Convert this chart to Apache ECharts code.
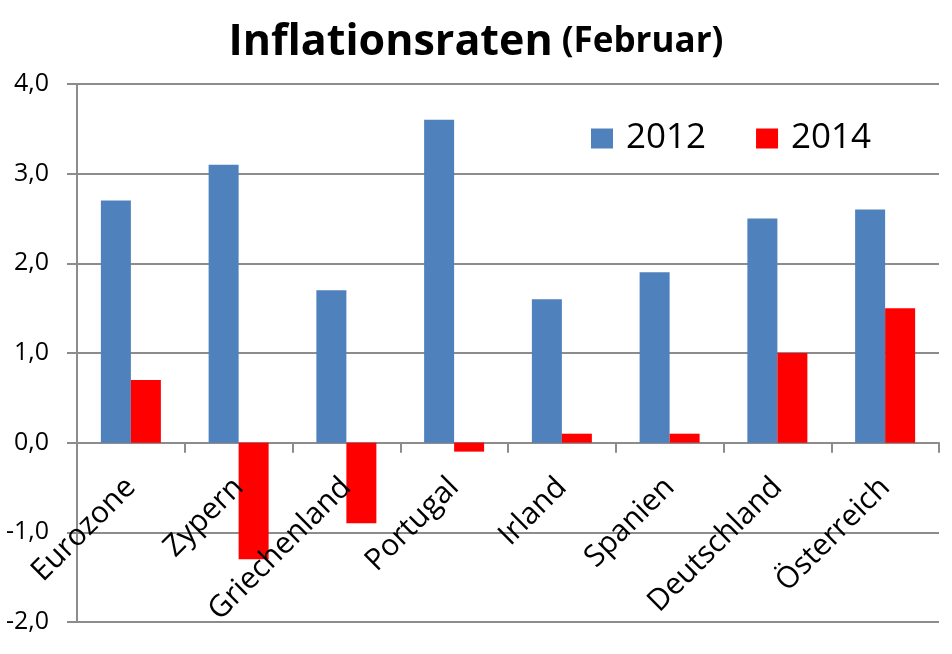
<!DOCTYPE html>
<html>
<head>
<meta charset="utf-8">
<script src="https://cdn.jsdelivr.net/npm/echarts@6/dist/echarts.min.js"></script>
<style>html,body{margin:0;padding:0;background:#fff;}#c{width:952px;height:654px;}</style>
</head>
<body>
<div id="c"></div>
<script>
const categories = ['Eurozone','Zypern','Griechenland','Portugal','Irland','Spanien','Deutschland','Österreich'];
const values2012 = [2.7, 3.1, 1.7, 3.6, 1.6, 1.9, 2.5, 2.6];
const values2014 = [0.7, -1.3, -0.9, -0.1, 0.1, 0.1, 1.0, 1.5];
const seriesNames = ['2012', '2014'];

const FONT = '"Open Sans", sans-serif';
const GRID_TOP = 84, GRID_BOTTOM = 32, H = 654;
const Y_MIN = -2, Y_MAX = 4;
const plotH = H - GRID_TOP - GRID_BOTTOM;
const zeroOffset = -plotH * (0 - Y_MIN) / (Y_MAX - Y_MIN);

const chart = echarts.init(document.getElementById('c'));
chart.setOption({
  animation: false,
  backgroundColor: '#fff',
  title: {
    text: '{a|Inflationsraten} {b|(Februar)}',
    left: 'center',
    top: 16,
    textStyle: {
      rich: {
        a: {fontFamily: FONT, fontWeight: 'bold', fontSize: 43, color: '#000'},
        b: {fontFamily: FONT, fontWeight: 'bold', fontSize: 35, color: '#000', padding: [0, 0, 0, 4]}
      }
    }
  },
  legend: {
    left: 586, top: 116,
    icon: 'rect',
    itemWidth: 22, itemHeight: 20,
    itemGap: 50,
    textStyle: {fontFamily: FONT, fontSize: 35, color: '#000', padding: [0, 0, 0, 8]},
    data: seriesNames
  },
  grid: {left: 77, right: 13, top: GRID_TOP, bottom: GRID_BOTTOM, outerBoundsMode: 'none', containLabel: false},
  xAxis: [{
    type: 'category',
    data: categories,
    axisLine: {onZero: true, lineStyle: {color: '#8c8c8c', width: 2}},
    axisTick: {show: true, length: 10, lineStyle: {color: '#8c8c8c', width: 2}},
    axisLabel: {show: false}
  }, {
    type: 'category',
    data: categories,
    position: 'bottom',
    offset: zeroOffset,
    z: 10,
    axisLine: {show: false, onZero: false},
    axisTick: {show: false},
    axisLabel: {rotate: 45, margin: 40, fontFamily: FONT, fontSize: 30, color: '#000', interval: 0}
  }],
  yAxis: {
    type: 'value',
    min: Y_MIN, max: Y_MAX, interval: 1,
    axisLine: {show: true, lineStyle: {color: '#8c8c8c', width: 2}},
    axisTick: {show: true, length: 10, lineStyle: {color: '#8c8c8c', width: 2}},
    splitLine: {lineStyle: {color: '#8c8c8c', width: 2}},
    axisLabel: {margin: 28, fontFamily: FONT, fontSize: 25, color: '#000',
      formatter: v => v.toFixed(1).replace('.', ',')}
  },
  series: [
    {name: seriesNames[0], type: 'bar', data: values2012, barWidth: 30, barGap: '0%', itemStyle: {color: '#4F81BD'}},
    {name: seriesNames[1], type: 'bar', data: values2014, barWidth: 30, barGap: '0%', itemStyle: {color: '#FF0000'}}
  ]
});
</script>
</body>
</html>
